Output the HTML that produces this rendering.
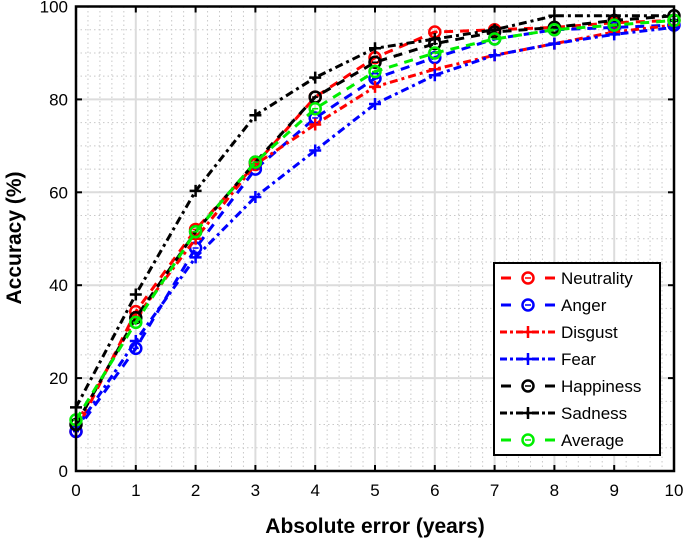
<!DOCTYPE html>
<html><head><meta charset="utf-8"><style>
body{margin:0;background:#fff}
svg{display:block;font-family:"Liberation Sans",Arial,sans-serif}
</style></head><body>
<svg id="chart" width="685" height="541" viewBox="0 0 685 541" xmlns="http://www.w3.org/2000/svg">
<g id="grid"></g>
<g id="series"></g>
<g id="axes"></g>
<g id="legend"></g>
<text x="375" y="533" text-anchor="middle" font-size="21" font-weight="bold">Absolute error (years)</text>
<text transform="translate(21,238) rotate(-90)" text-anchor="middle" font-size="21" font-weight="bold">Accuracy (%)</text>
</svg>
<script>
const xCats=[0,1,2,3,4,5,6,7,8,9,10];
const yTicks=[0,20,40,60,80,100];
const neutrality=[8.5,34.3,52,66,80.5,89,94.5,95,95.5,96.5,97];
const anger=[8.5,26.4,48,65,76,84.5,89,93,95,95.5,96];
const disgust=[10,33,50,66,74.6,82.7,86.5,89.5,92,94.5,96];
const fear=[9,28,46,59,69,79,85.2,89.5,92,94,95.5];
const happiness=[10,33,51.5,66.5,80.5,88,92,94.5,95.5,97,98];
const sadness=[13.7,38,60.3,76.6,84.7,91,93,95,98,98,98];
const average=[11,32,51.5,66.5,78,86,90,93,95,96,97];
const seriesNames=["Neutrality","Anger","Disgust","Fear","Happiness","Sadness","Average"];

const NS="http://www.w3.org/2000/svg";
const X0=76,X1=674,Y0=471,Y1=6.5;
function sx(v){return X0+(v-0)/(10-0)*(X1-X0);}
function sy(v){return Y0-(v-0)/(100-0)*(Y0-Y1);}
function mk(tag,attrs,parent){const e=document.createElementNS(NS,tag);for(const k in attrs)e.setAttribute(k,attrs[k]);parent.appendChild(e);return e;}
const grid=document.getElementById('grid'),axes=document.getElementById('axes'),ser=document.getElementById('series'),leg=document.getElementById('legend');

for(let v=0;v<=10.001;v+=0.2){if(Math.abs(v-Math.round(v))<1e-6)continue;
 const l=mk('line',{x1:sx(v),x2:sx(v),y1:Y1,y2:Y0,stroke:'#c8c8c8','stroke-width':1,'stroke-dasharray':'1.5,3'},grid);
 }
for(let v=0;v<=100;v+=5){if(v%20===0)continue;
 const l=mk('line',{x1:X0,x2:X1,y1:sy(v),y2:sy(v),stroke:'#c8c8c8','stroke-width':1,'stroke-dasharray':'1.5,3'},grid);
 }
xCats.forEach(v=>{const l=mk('line',{x1:sx(v),x2:sx(v),y1:Y1,y2:Y0,stroke:'#dcdcdc','stroke-width':2},grid);
 });
yTicks.forEach(v=>{const l=mk('line',{x1:X0,x2:X1,y1:sy(v),y2:sy(v),stroke:'#dcdcdc','stroke-width':2},grid);
 });

const defs=[
 {d:neutrality,c:'#ff0000',dash:'9,7',m:'o'},
 {d:anger,c:'#0000ff',dash:'9,7',m:'o'},
 {d:disgust,c:'#ff0000',dash:'8,4,3,4',m:'+'},
 {d:fear,c:'#0000ff',dash:'8,4,3,4',m:'+'},
 {d:happiness,c:'#000000',dash:'9,7',m:'o'},
 {d:sadness,c:'#000000',dash:'8,4,3,4',m:'+'},
 {d:average,c:'#00ee00',dash:'9,7',m:'o'}];
function marker(type,x,y,c,parent,name){
 if(type==='o'){const e=mk('circle',{cx:x,cy:y,r:5.5,fill:'none',stroke:c,'stroke-width':2.5},parent);
  
  mk('line',{x1:x-3,x2:x+3,y1:y,y2:y,stroke:c,'stroke-width':1.5},parent);}
 else{const e=mk('path',{d:`M${x-6},${y}H${x+6}M${x},${y-6}V${y+6}`,stroke:c,'stroke-width':2.5,fill:'none'},parent);
  }
}
defs.forEach((s,i)=>{
 const g=mk('g',{},ser);
 
 
 const pts=s.d.map((v,j)=>sx(xCats[j])+','+sy(v)).join(' ');
 const pl=mk('polyline',{points:pts,fill:'none',stroke:s.c,'stroke-width':3,'stroke-dasharray':s.dash},g);
 
 
 s.d.forEach((v,j)=>marker(s.m,sx(xCats[j]),sy(v),s.c,g,'point-'+seriesNames[i].toLowerCase()));
});

const box=mk('rect',{x:X0,y:Y1,width:X1-X0,height:Y0-Y1,fill:'none',stroke:'#000','stroke-width':2.5},axes);

xCats.forEach(v=>{
 mk('line',{x1:sx(v),x2:sx(v),y1:Y0,y2:Y0-6,stroke:'#000','stroke-width':2},axes);
 mk('line',{x1:sx(v),x2:sx(v),y1:Y1,y2:Y1+6,stroke:'#000','stroke-width':2},axes);
 const t=mk('text',{x:sx(v),y:Y0+25,'text-anchor':'middle','font-size':17},axes);t.textContent=v;
 });
yTicks.forEach(v=>{
 mk('line',{x1:X0,x2:X0+6,y1:sy(v),y2:sy(v),stroke:'#000','stroke-width':2},axes);
 mk('line',{x1:X1,x2:X1-6,y1:sy(v),y2:sy(v),stroke:'#000','stroke-width':2},axes);
 const t=mk('text',{x:X0-8,y:sy(v)+6,'text-anchor':'end','font-size':17},axes);t.textContent=v;
 });

const lb=mk('rect',{x:494,y:263,width:166,height:192,fill:'#fff',stroke:'#000','stroke-width':2},leg);

defs.forEach((s,i)=>{
 const y=278+i*27;
 const g=mk('g',{},leg);
 
 
 if(s.m==='o'){
  mk('line',{x1:501,x2:511,y1:y,y2:y,stroke:s.c,'stroke-width':3},g);
  mk('line',{x1:545,x2:555,y1:y,y2:y,stroke:s.c,'stroke-width':3},g);
 } else {
  mk('line',{x1:500,x2:556,y1:y,y2:y,stroke:s.c,'stroke-width':3,'stroke-dasharray':'7,3,3,3'},g);
 }
 marker(s.m,528,y,s.c,g,'legend-marker');
 const t=mk('text',{x:561,y:y+6,'font-size':17},g);t.textContent=seriesNames[i];
 
});
</script>
</body></html>
